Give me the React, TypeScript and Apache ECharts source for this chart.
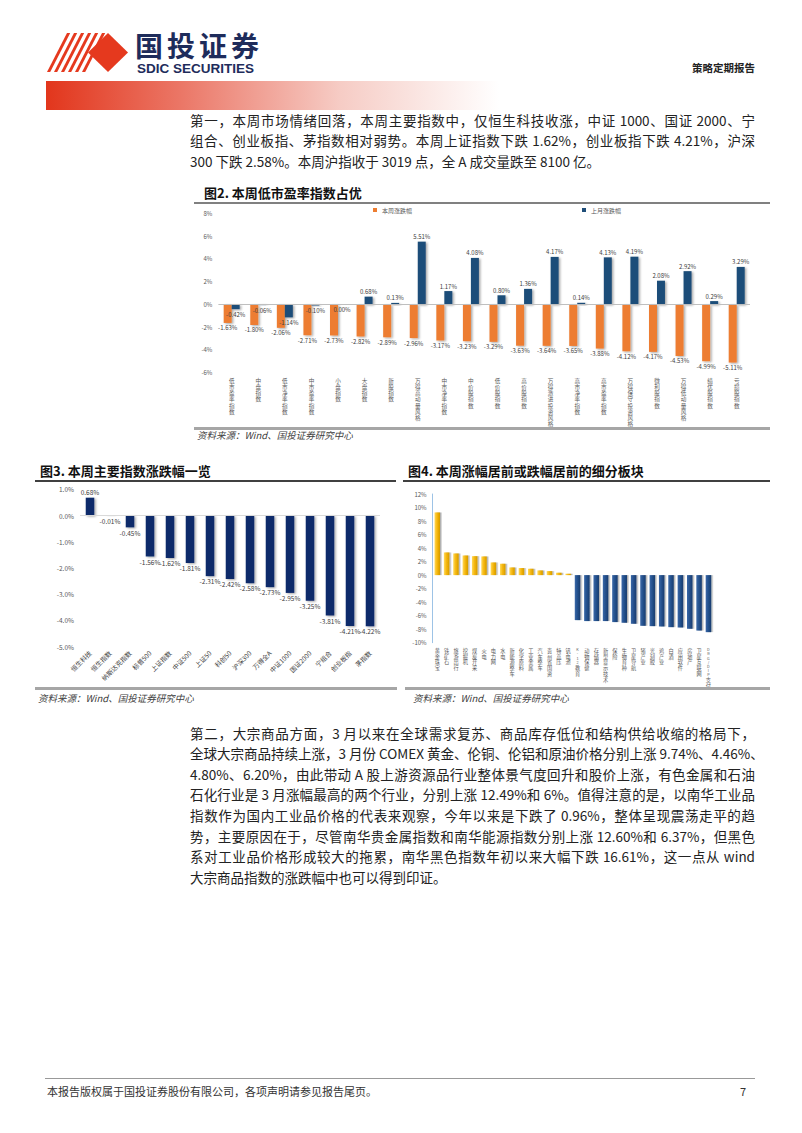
import React, { useEffect, useRef } from 'react';
import * as echarts from 'echarts';

// ---------- data ----------
const cat2 = ['低市盈率指数', '中盘指数', '低市净率指数', '中市盈率指数', '小盘指数', '大盘指数', '新股指数', '万得高动量风格', '中市净率指数', '中价股指数', '低价股指数', '高价股指数', '万得激进投资风格', '高市净率指数', '高市盈率指数', '万得保守投资风格', '微利股指数', '万得低动量风格', '绩优股指数', '亏损股指数'];
const weekChg2 = [-1.63, -1.80, -2.06, -2.71, -2.73, -2.82, -2.89, -2.96, -3.17, -3.23, -3.29, -3.63, -3.64, -3.65, -3.88, -4.12, -4.17, -4.53, -4.99, -5.11];
const monthChg2 = [-0.42, -0.06, -1.14, -0.10, 0.00, 0.68, 0.13, 5.51, 1.17, 4.08, 0.80, 1.36, 4.17, 0.14, 4.13, 4.19, 2.08, 2.92, 0.29, 3.29];
const legend2 = ['本周涨跌幅', '上月涨跌幅'];

const cat3 = ['恒生科技', '恒生指数', '纳斯达克指数', '标普500', '上证指数', '中证500', '上证50', '科创50', '沪深300', '万得全A', '中证1000', '国证2000', '宁组合', '创业板指', '茅指数'];
const chg3 = [0.68, -0.01, -0.45, -1.56, -1.62, -1.81, -2.31, -2.42, -2.58, -2.73, -2.95, -3.25, -3.81, -4.21, -4.22];

const cat4 = ['黄金珠宝', '铁矿石', '旅游出行', '挖掘机', '煤炭开采', '火电', '电力网', '水电', '新能源整车', '化学原料', '工业金属', '汽车整车', '贵州省国资', '特高压', '钒电池', 'K-12教育', '动物保健', '存储器', '新型显示技术', '保险', '生物育种', '卫星导航', '猪产业', '光刻胶', '鸡产业', '白酒', '应用软件', '房地产', '卫星互联网', 'DRG/DIP支付'];
const chg4 = [9.27, 3.35, 3.2, 2.9, 2.8, 2.76, 1.87, 1.68, 1.13, 1.04, 0.94, 0.69, 0.59, 0.35, 0.2, -6.66, -6.8, -6.8, -6.8, -6.95, -7.05, -7.2, -7.5, -7.55, -7.6, -7.7, -7.75, -7.94, -8.2, -8.44];

const para1 = [
  '第一，本周市场情绪回落，本周主要指数中，仅恒生科技收涨，中证 1000、国证 2000、宁',
  '组合、创业板指、茅指数相对弱势。本周上证指数下跌 1.62%，创业板指下跌 4.21%，沪深',
  '300 下跌 2.58%。本周沪指收于 3019 点，全 A 成交量跌至 8100 亿。',
];
const para2 = [
  '第二，大宗商品方面，3 月以来在全球需求复苏、商品库存低位和结构供给收缩的格局下，',
  '全球大宗商品持续上涨，3 月份 COMEX 黄金、伦铜、伦铝和原油价格分别上涨 9.74%、4.46%、',
  '4.80%、6.20%，由此带动 A 股上游资源品行业整体景气度回升和股价上涨，有色金属和石油',
  '石化行业是 3 月涨幅最高的两个行业，分别上涨 12.49%和 6%。值得注意的是，以南华工业品',
  '指数作为国内工业品价格的代表来观察，今年以来是下跌了 0.96%，整体呈现震荡走平的趋',
  '势，主要原因在于，尽管南华贵金属指数和南华能源指数分别上涨 12.60%和 6.37%，但黑色',
  '系对工业品价格形成较大的拖累，南华黑色指数年初以来大幅下跌 16.61%，这一点从 wind',
  '大宗商品指数的涨跌幅中也可以得到印证。',
];

const FONT = '"Noto Sans CJK SC", "Noto Sans", sans-serif';

const vert = (v: string) =>
  v.split('').map((c) => (/[\x00-\x7F]/.test(c) ? `{a|${c}}` : c)).join('\n');

const signData = (arr: number[]) =>
  arr.map((v) => ({ value: v, label: { position: v > 0 ? 'top' : 'bottom' } }));

const pctLabel = (size: number) => ({
  show: true,
  fontSize: size,
  color: '#404040',
  fontFamily: FONT,
  distance: 2,
  formatter: (p: any) => Number(p.value).toFixed(2) + '%',
});

const shadow = {
  shadowColor: 'rgba(0,0,0,0.35)',
  shadowBlur: 2,
  shadowOffsetX: 1.5,
  shadowOffsetY: 1,
};

const zeroLine = (color: string) => ({
  silent: true,
  symbol: ['none', 'none'],
  label: { show: false },
  lineStyle: { color, width: 1, type: 'solid' },
  data: [{ yAxis: 0 }],
});

const gold = {
  type: 'linear', x: 0, y: 0, x2: 1, y2: 0,
  colorStops: [
    { offset: 0, color: '#FFD95A' },
    { offset: 0.5, color: '#F5B50A' },
    { offset: 1, color: '#D39A00' },
  ],
};
const blue = {
  type: 'linear', x: 0, y: 0, x2: 1, y2: 0,
  colorStops: [
    { offset: 0, color: '#3A68A8' },
    { offset: 0.5, color: '#24508C' },
    { offset: 1, color: '#183C6E' },
  ],
};

function buildOption(): any {
  const catAxisBase = {
    type: 'category',
    axisLine: { show: false, onZero: false },
    axisTick: { show: false },
  };
  const valAxisBase = {
    type: 'value',
    splitLine: { show: false },
    axisLine: { show: false },
    axisTick: { show: false },
  };
  return {
    animation: false,
    textStyle: { fontFamily: FONT },
    legend: [
      {
        data: [legend2[0]], left: 373, top: 207, icon: 'rect', itemWidth: 4, itemHeight: 4,
        itemGap: 2, padding: 0, textStyle: { fontSize: 6, color: '#595959', fontFamily: FONT },
      },
      {
        data: [legend2[1]], left: 582, top: 207, icon: 'rect', itemWidth: 4, itemHeight: 4,
        itemGap: 2, padding: 0, textStyle: { fontSize: 6, color: '#595959', fontFamily: FONT },
      },
    ],
    grid: [
      { left: 218.4, top: 213.3, width: 531.6, height: 159.4 },
      { left: 80, top: 489.3, width: 300, height: 157.4 },
      { left: 432.6, top: 494, width: 280.5, height: 148.7 },
    ],
    xAxis: [
      {
        ...catAxisBase, gridIndex: 0, data: cat2,
        axisLabel: {
          interval: 0, fontSize: 5.6, lineHeight: 6.2, color: '#595959', margin: 5,
          verticalAlign: 'top', formatter: vert,
          rich: { a: { fontSize: 4.6, lineHeight: 5.1, color: '#595959' } },
        },
      },
      {
        ...catAxisBase, gridIndex: 1, data: cat3,
        axisLabel: { interval: 0, rotate: 45, fontSize: 6.5, color: '#404040', margin: 5 },
      },
      {
        ...catAxisBase, gridIndex: 2, data: cat4,
        axisLabel: {
          interval: 0, fontSize: 5.2, lineHeight: 5.7, color: '#595959', margin: 5,
          verticalAlign: 'top', formatter: vert,
          rich: { a: { fontSize: 3.8, lineHeight: 4.2, color: '#595959' } },
        },
      },
    ],
    yAxis: [
      {
        ...valAxisBase, gridIndex: 0, min: -6, max: 8, interval: 2,
        axisLabel: { formatter: '{value}%', fontSize: 6, color: '#595959', margin: 6 },
      },
      {
        ...valAxisBase, gridIndex: 1, min: -5, max: 1, interval: 1,
        axisLabel: { formatter: (v: number) => v.toFixed(1) + '%', fontSize: 6.5, color: '#595959', margin: 6 },
      },
      {
        ...valAxisBase, gridIndex: 2, min: -10, max: 12, interval: 2,
        axisLine: { show: true, lineStyle: { color: '#9DC3E6', width: 1 } },
        axisLabel: { formatter: '{value}%', fontSize: 6, color: '#595959', margin: 6 },
      },
    ],
    series: [
      {
        name: legend2[0], type: 'bar', xAxisIndex: 0, yAxisIndex: 0,
        data: signData(weekChg2), barWidth: 8, barGap: '0%',
        itemStyle: { color: '#ED7D31', ...shadow },
        label: pctLabel(6),
        markLine: zeroLine('#BFBFBF'),
      },
      {
        name: legend2[1], type: 'bar', xAxisIndex: 0, yAxisIndex: 0,
        data: signData(monthChg2), barWidth: 8, barGap: '0%',
        itemStyle: { color: '#1F4E79', ...shadow },
        label: pctLabel(6),
      },
      {
        name: '本周主要指数涨跌幅', type: 'bar', xAxisIndex: 1, yAxisIndex: 1,
        data: signData(chg3), barWidth: 8.5,
        itemStyle: { color: '#0F2A6B', ...shadow },
        label: pctLabel(6.5),
        markLine: zeroLine('#D9D9D9'),
      },
      {
        name: '细分板块', type: 'bar', xAxisIndex: 2, yAxisIndex: 2,
        data: chg4.map((v) => ({ value: v, itemStyle: { color: v >= 0 ? gold : blue } })),
        barWidth: 5.5,
        itemStyle: { shadowColor: 'rgba(0,0,0,0.3)', shadowBlur: 1.5, shadowOffsetX: 1.5, shadowOffsetY: 0 },
      },
    ],
  };
}

const abs = (s: React.CSSProperties): React.CSSProperties => ({ position: 'absolute', ...s });

const titleStyle = (left: number, cy: number): React.CSSProperties =>
  abs({ left, top: cy - 7, fontSize: 13, lineHeight: '14px', fontWeight: 700, color: '#111', whiteSpace: 'nowrap', fontFamily: FONT });
const sourceStyle = (left: number, cy: number): React.CSSProperties =>
  abs({ left, top: cy - 5.5, fontSize: 9.5, lineHeight: '11px', fontStyle: 'italic', color: '#404040', whiteSpace: 'nowrap', fontFamily: FONT });
const hline = (left: number, top: number, width: number, h: number, color: string): React.CSSProperties =>
  abs({ left, top, width, height: h, background: color });

function Para({ lines, top, lh }: { lines: string[]; top: number; lh: number }) {
  return (
    <>
      {lines.map((t, i) => (
        <div
          key={i}
          style={abs({
            left: 190, top: top + i * lh, width: 565, height: lh, lineHeight: lh + 'px',
            fontSize: 13.5, color: '#222', fontFamily: FONT, whiteSpace: 'nowrap',
            textAlign: i === lines.length - 1 ? 'left' : 'justify',
            textAlignLast: i === lines.length - 1 ? 'left' : 'justify',
          } as React.CSSProperties)}
        >
          {t}
        </div>
      ))}
    </>
  );
}

export default function App() {
  const ref = useRef<HTMLDivElement>(null);
  useEffect(() => {
    if (!ref.current) return;
    const chart = echarts.init(ref.current, null, { renderer: 'svg' });
    chart.setOption(buildOption());
    return () => chart.dispose();
  }, []);

  const stripes = [0, 1, 2, 3, 4, 5].map((i) => {
    const bx = 47 + i * 7;
    return <polygon key={i} points={`${bx},72 ${bx + 3.2},72 ${bx + 23.2},33 ${bx + 20},33`} fill="#E5391E" />;
  });

  return (
    <div style={{ position: 'absolute', left: 0, top: 0, width: 802, height: 1133, background: '#fff', overflow: 'hidden', fontFamily: FONT }}>
      <div ref={ref} style={{ position: 'absolute', left: 0, top: 0, width: 802, height: 1133 }} />

      <svg width={802} height={120} style={{ position: 'absolute', left: 0, top: 0 }}>
        <defs>
          <linearGradient id="redbar" x1="0" x2="1" y1="0" y2="0">
            <stop offset="0" stopColor="#E2361C" />
            <stop offset="0.3" stopColor="#EB7767" />
            <stop offset="0.65" stopColor="#F6CCC5" />
            <stop offset="1" stopColor="#FFFFFF" />
          </linearGradient>
        </defs>
        <rect x={46} y={81} width={453} height={29} fill="url(#redbar)" />
        {stripes}
        <polygon points="88,52.5 108,33 128,52.5 108,72" fill="#E5391E" />
      </svg>
      <div style={abs({ left: 135, top: 31, fontSize: 28, lineHeight: '28px', fontWeight: 700, letterSpacing: 4, color: '#1E2C5B', whiteSpace: 'nowrap' })}>国投证券</div>
      <div style={abs({ left: 137, top: 61.5, fontSize: 13.5, lineHeight: '13.5px', fontWeight: 700, color: '#1E2C5B', whiteSpace: 'nowrap', fontFamily: '"Liberation Sans", Arial, sans-serif' })}>SDIC SECURITIES</div>
      <div style={abs({ left: 692, top: 62, fontSize: 10.5, lineHeight: '11px', fontWeight: 700, color: '#222', whiteSpace: 'nowrap' })}>策略定期报告</div>

      <Para lines={para1} top={110} lh={20.4} />

      <div style={titleStyle(204, 193)}>图2. 本周低市盈率指数占优</div>
      <div style={hline(194, 202, 576, 1.5, '#808080')} />
      <div style={hline(194, 427, 576, 2.5, '#A6A6A6')} />
      <div style={sourceStyle(197, 435)}>资料来源：Wind、国投证券研究中心</div>

      <div style={titleStyle(40, 471)}>图3. 本周主要指数涨跌幅一览</div>
      <div style={hline(35, 480, 361, 1.5, '#404040')} />
      <div style={hline(35, 687, 362, 2.5, '#A6A6A6')} />
      <div style={sourceStyle(38, 698)}>资料来源：Wind、国投证券研究中心</div>

      <div style={titleStyle(408, 471)}>图4. 本周涨幅居前或跌幅居前的细分板块</div>
      <div style={hline(403, 480, 367, 1.5, '#404040')} />
      <div style={hline(405, 687, 365, 2.5, '#A6A6A6')} />
      <div style={sourceStyle(413, 698)}>资料来源：Wind、国投证券研究中心</div>

      <Para lines={para2} top={722.6} lh={20.6} />

      <div style={hline(45, 1078, 710, 1, '#999')} />
      <div style={abs({ left: 47, top: 1085, fontSize: 11, lineHeight: '12px', color: '#333', whiteSpace: 'nowrap' })}>本报告版权属于国投证券股份有限公司，各项声明请参见报告尾页。</div>
      <div style={abs({ left: 740, top: 1085, fontSize: 11, lineHeight: '12px', color: '#333' })}>7</div>
    </div>
  );
}
